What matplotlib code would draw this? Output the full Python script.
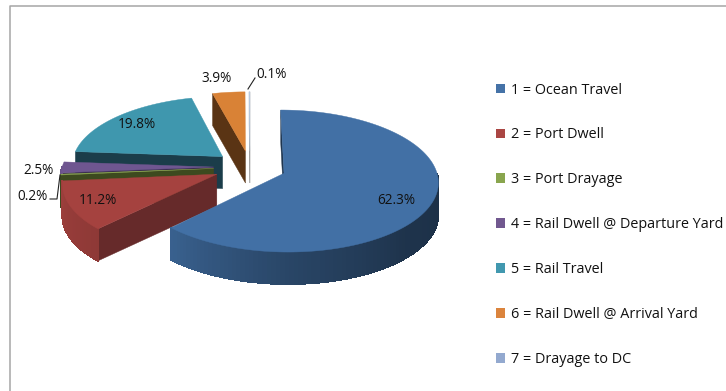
import numpy as np
import matplotlib
matplotlib.use('Agg')
import matplotlib.pyplot as plt
from matplotlib.patches import Polygon, Patch

categories = ['1 = Ocean Travel', '2 = Port Dwell', '3 = Port Drayage',
              '4 = Rail Dwell @ Departure Yard', '5 = Rail Travel',
              '6 = Rail Dwell @ Arrival Yard', '7 = Drayage to DC']
shares = [62.3, 11.2, 0.2, 2.5, 19.8, 3.9, 0.1]
top_colors = ['#4270a5', '#a5423f', '#89a54e', '#6f5690', '#3f97ae', '#d98236', '#b8cce4']
legend_colors = ['#4572a7', '#aa4643', '#89a54e', '#71588f', '#4198af', '#db843d', '#93a9cf']
cut_colors = ['#1f3650', '#662a2a', '#3d4a1f', '#3b2d50', '#1b3d4a', '#5a3414', '#9a9a9a']

# pie geometry, in pixels
cx, cy = 250, 167
radius = 151.5
squash = 68.8
persp = 0.108
explode = 0.24
depth = 32


def project(u, v, drop=0):
    f = 1 + persp * v
    return cx + radius * u / f, cy - squash * v / f + drop


def rim(a, off):
    r = np.radians(a)
    return off[0] + np.sin(r), off[1] + np.cos(r)


def darker(color, s):
    return tuple(c * s for c in matplotlib.colors.to_rgb(color))


def wall_shade(a):
    # lighter towards the left of the front wall
    return np.interp(a, [90, 135, 180, 224, 270], [0.42, 0.46, 0.62, 0.86, 0.96])


fig = plt.figure(figsize=(7.26, 3.91), dpi=100)
ax = fig.add_axes([0, 0, 1, 1])
ax.set_xlim(0, 726)
ax.set_ylim(391, 0)
ax.axis('off')

# chart frame, only left and top are in view
ax.plot([9.5, 9.5, 726], [391, 5.5, 5.5], color='#a6a6a6', lw=1.1)

edges = np.concatenate([[0], np.cumsum(shares)]) * 3.6

# back slices first so the front ones paint over them
for i in [6, 5, 4, 3, 2, 1, 0]:
    a0, a1 = edges[i], edges[i + 1]
    mid = np.radians((a0 + a1) / 2)
    off = (explode * np.sin(mid), explode * np.cos(mid))
    color = top_colors[i]

    # cut faces, only those turned towards the viewer
    for a, facing in ((a0, np.sin(np.radians(a0))), (a1, -np.sin(np.radians(a1)))):
        if facing <= 0.001:
            p1 = rim(a, off)
            face = [project(*off), project(*p1), project(*p1, depth), project(*off, depth)]
            ax.add_patch(Polygon(face, closed=True, fc=cut_colors[i], ec=cut_colors[i], lw=0.3))

    # curved wall, cut into strips for the shading
    lo, hi = max(a0, 90), min(a1, 270)
    if hi > lo:
        steps = np.arange(lo, hi + 1.5, 1.5)
        steps[-1] = hi
        for s0, s1 in zip(steps[:-1], steps[1:]):
            strip = [project(*rim(s0, off)), project(*rim(s1, off)),
                     project(*rim(s1, off), depth), project(*rim(s0, off), depth)]
            c = darker(color, wall_shade((s0 + s1) / 2))
            # very thin slices read as a dark edge
            if shares[i] < 1:
                c = cut_colors[i]
            ax.add_patch(Polygon(strip, closed=True, fc=c, ec=c, lw=0.6, antialiased=False))

    # top face
    arc = np.linspace(a0, a1, max(int(a1 - a0), 2) + 1)
    pts = [project(*off)] + [project(*rim(a, off)) for a in arc]
    ax.add_patch(Polygon(pts, closed=True, fc=color, ec=color, lw=0.3))

labels = ['62.3%', '11.2%', '0.2%', '2.5%', '19.8%', '3.9%', '0.1%']
label_x = [396, 98, 33, 39, 137, 217, 272]
label_y = [201, 200, 197, 171, 124, 79, 75]
for s, x, y in zip(labels, label_x, label_y):
    ax.text(x, y, s, ha='center', va='center', fontsize=9.8, color='#111111', family='Open Sans')

# leader lines for the two thin slices
ax.plot([50, 57, 60], [199, 199, 175], color='#222222', lw=0.8)
ax.plot([248, 255], [89, 78], color='#222222', lw=0.8)

handles = [Patch(fc=c, ec='none') for c in legend_colors]
ax.legend(handles, categories, loc='upper left', bbox_to_anchor=(496 / 726, 1 - 82.5 / 391),
          frameon=False, prop={'family': 'Open Sans', 'size': 10.4}, labelspacing=2.07,
          handlelength=0.65, handleheight=0.65, handletextpad=0.42, borderpad=0, borderaxespad=0,
          labelcolor='#111111')

fig.savefig('out.png', dpi=100)
